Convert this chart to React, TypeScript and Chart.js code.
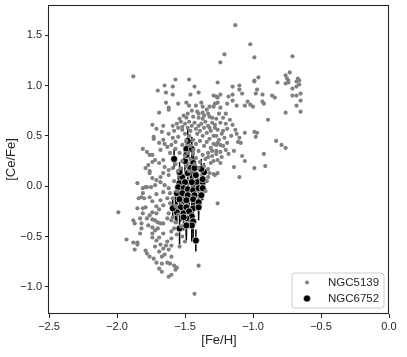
import React, { useEffect, useRef } from "react";
import { Chart, registerables } from "chart.js";

Chart.register(...registerables);

const FONT = "'Liberation Sans', Arial, Helvetica, sans-serif";
const TEXT = "#262626";

const xTicks = [-2.5, -2.0, -1.5, -1.0, -0.5, 0.0];
const yTicks = [-1.0, -0.5, 0.0, 0.5, 1.0, 1.5];
const xLimits = [-2.5, 0.0];
const yLimits = [-1.27, 1.8];

const seriesNames = ["NGC5139", "NGC6752"];

// NGC5139: [Fe/H], [Ce/Fe]
const ngc5139: [number, number][] = [
  [-1.88, 1.09], [-1.70, 0.95], [-1.65, 1.00], [-1.59, 0.99], [-1.57, 1.06], [-1.47, 1.06], [-1.43, 0.99],
  [-1.64, 0.93], [-1.59, 0.91], [-1.46, 0.91], [-1.40, 0.93], [-1.64, 0.83], [-1.62, 0.78], [-1.62, 0.76],
  [-1.55, 0.82], [-1.49, 0.83], [-1.47, 0.80], [-1.38, 0.83], [-1.37, 0.79], [-1.32, 0.79], [-1.29, 0.79],
  [-1.26, 0.83], [-1.26, 0.88], [-1.26, 1.03], [-1.69, 0.73], [-1.41, 0.74], [-1.37, 0.73], [-1.34, 0.76],
  [-1.54, 0.67], [-1.49, 0.68], [-1.47, 0.64], [-1.44, 0.69], [-1.40, 0.68], [-1.37, 0.67], [-1.32, 0.69],
  [-1.27, 0.67], [-1.74, 0.61], [-1.66, 0.60], [-1.59, 0.60], [-1.52, 0.59], [-1.73, 0.49], [-1.73, 0.47],
  [-1.67, 0.54], [-1.66, 0.46], [-1.62, 0.52], [-1.59, 0.48], [-1.55, 0.49], [-1.52, 0.56], [-1.81, 0.37],
  [-1.78, 0.34], [-1.76, 0.31], [-1.74, 0.31], [-1.68, 0.36], [-1.63, 0.39], [-1.61, 0.33], [-1.57, 0.37],
  [-1.54, 0.33], [-1.52, 0.41],
  [-1.50, 0.62], [-1.48, 0.58], [-1.46, 0.55], [-1.45, 0.60], [-1.43, 0.63], [-1.42, 0.57], [-1.41, 0.52],
  [-1.40, 0.60], [-1.39, 0.55], [-1.38, 0.62], [-1.37, 0.50], [-1.36, 0.58], [-1.35, 0.64], [-1.34, 0.53],
  [-1.33, 0.60], [-1.32, 0.47], [-1.31, 0.55], [-1.30, 0.63], [-1.29, 0.50], [-1.28, 0.58], [-1.47, 0.50],
  [-1.44, 0.46], [-1.42, 0.42], [-1.39, 0.45], [-1.36, 0.40], [-1.34, 0.44], [-1.31, 0.38], [-1.29, 0.42],
  [-1.46, 0.40], [-1.49, 0.45], [-1.50, 0.52], [-1.44, 0.36], [-1.40, 0.35], [-1.37, 0.31], [-1.33, 0.33],
  [-1.35, 0.27], [-1.30, 0.30], [-1.48, 0.33], [-1.42, 0.28], [-1.39, 0.24],
  [-1.15, 0.99], [-1.10, 1.00], [-1.10, 0.96], [-0.99, 1.04], [-0.82, 1.03], [-0.76, 1.02], [-0.74, 1.05],
  [-0.68, 1.04], [-0.68, 0.99], [-0.66, 1.01], [-0.71, 0.97], [-0.97, 0.96], [-0.98, 0.92], [-0.93, 0.91],
  [-0.86, 0.90], [-0.84, 0.88], [-0.71, 0.90], [-0.68, 0.90], [-0.65, 0.92], [-1.08, 0.92], [-1.15, 0.91],
  [-1.18, 0.89], [-1.24, 0.91], [-1.27, 0.89], [-1.29, 0.90], [-1.04, 0.84], [-1.02, 0.81], [-1.00, 0.79],
  [-0.93, 0.84], [-0.92, 0.82], [-1.06, 0.80], [-1.12, 0.80], [-1.15, 0.85], [-1.19, 0.82], [-1.24, 0.78],
  [-1.28, 0.82], [-0.68, 0.80], [-0.65, 0.74], [-0.76, 0.73], [-0.89, 0.66], [-1.24, 0.63], [-1.28, 0.61],
  [-1.32, 0.58], [-1.22, 0.55], [-1.19, 0.57], [-1.06, 0.53], [-0.99, 0.54], [-0.97, 0.53], [-0.98, 0.49],
  [-1.10, 0.48], [-1.11, 0.44], [-1.09, 0.43], [-1.19, 0.43], [-1.26, 0.43], [-1.27, 0.41], [-1.24, 0.41],
  [-0.83, 0.45], [-0.79, 0.41], [-0.76, 0.38], [-1.14, 0.35], [-1.27, 0.35], [-1.08, 0.30], [-0.92, 0.32],
  [-1.29, 0.25], [-1.26, 0.26], [-1.23, 0.29], [-1.24, 0.23], [-1.06, 0.25], [-1.14, 0.19], [-0.99, 0.18],
  [-0.91, 0.20], [-1.10, 0.09], [-1.29, 0.12], [-1.26, 0.13], [-1.33, 0.09],
  [-1.13, 1.60], [-1.02, 1.41], [-1.21, 1.31], [-1.24, 1.23], [-0.99, 1.28], [-0.71, 1.29], [-0.76, 1.10],
  [-0.73, 1.13], [-0.75, 1.07], [-0.74, 1.03], [-0.67, 1.07], [-0.66, 1.05], [-0.65, 0.85], [-0.99, 1.05],
  [-0.96, 1.08],
  [-1.32, 0.13], [-1.28, 0.11], [-1.26, -0.17], [-1.33, 0.29], [-1.31, 0.23], [-1.36, 0.20], [-1.40, 0.18],
  [-1.43, 0.22],
  [-1.99, -0.26], [-1.93, -0.53], [-1.88, -0.56], [-1.87, -0.63], [-1.85, -0.56], [-1.85, -0.58], [-1.83, -0.47],
  [-1.88, -0.34], [-1.87, -0.37], [-1.85, 0.03], [-1.82, -0.11], [-1.81, -0.07], [-1.79, -0.01], [-1.79, -0.21],
  [-1.81, -0.27], [-1.82, -0.37], [-1.78, -0.32], [-1.76, -0.29], [-1.74, -0.26], [-1.77, -0.39], [-1.74, -0.41],
  [-1.79, -0.64], [-1.78, -0.67], [-1.76, -0.70], [-1.73, -0.72], [-1.71, -0.76], [-1.67, -0.77], [-1.69, -0.82],
  [-1.67, -0.85], [-1.63, -0.76], [-1.61, -0.77], [-1.58, -0.79], [-1.56, -0.81], [-1.57, -0.83], [-1.62, -0.90],
  [-1.60, -0.88], [-1.43, -1.07], [-1.40, -0.79], [-1.64, -0.59], [-1.60, -0.59], [-1.71, -0.54], [-1.69, -0.51],
  [-1.66, -0.47], [-1.74, -0.51], [-1.74, -0.47], [-1.72, -0.44], [-1.70, -0.42], [-1.68, -0.37], [-1.70, -0.36],
  [-1.66, -0.37], [-1.72, -0.34], [-1.74, -0.33], [-1.71, -0.27], [-1.69, -0.23], [-1.71, -0.20], [-1.66, -0.19],
  [-1.68, -0.14], [-1.74, -0.15], [-1.76, -0.11], [-1.71, -0.08], [-1.66, -0.06], [-1.72, 0.01], [-1.68, 0.04],
  [-1.65, 0.01], [-1.62, -0.02], [-1.61, -0.07], [-1.63, -0.12], [-1.61, -0.17], [-1.62, -0.27], [-1.59, -0.31],
  [-1.60, -0.34], [-1.63, -0.32], [-1.57, -0.36],
  [-1.79, 0.18], [-1.77, 0.21], [-1.74, 0.24], [-1.72, 0.26], [-1.69, 0.23], [-1.66, 0.26], [-1.65, 0.19],
  [-1.66, 0.13], [-1.68, 0.09], [-1.62, 0.11], [-1.62, 0.16], [-1.59, 0.18], [-1.76, 0.15], [-1.74, 0.08],
  [-1.71, 0.06], [-1.76, 0.13], [-1.81, -0.02], [-1.78, -0.01], [-1.75, -0.01], [-1.84, -0.12], [-1.80, -0.12],
  [-1.81, -0.22], [-1.85, -0.22], [-1.82, -0.42], [-1.83, -0.32],
  [-1.57, 0.22], [-1.55, 0.15], [-1.58, 0.05], [-1.56, -0.05], [-1.59, -0.12], [-1.57, -0.20], [-1.55, -0.28],
  [-1.58, -0.42], [-1.56, -0.48], [-1.60, -0.52], [-1.53, -0.40], [-1.52, -0.50], [-1.54, -0.60], [-1.50, -0.55],
  [-1.60, -0.45], [-1.63, -0.55], [-1.62, -0.63], [-1.65, -0.68], [-1.60, -0.70], [-1.66, -0.62], [-1.68, -0.58],
  [-1.69, -0.65], [-1.72, -0.60], [-1.67, -0.70],
  [-1.34, 0.05], [-1.35, -0.05], [-1.33, 0.17],
  [-1.52, 0.25], [-1.49, 0.20], [-1.46, 0.27], [-1.44, 0.32], [-1.50, 0.30], [-1.53, 0.18], [-1.47, 0.15],
  [-1.71, 0.57], [-1.69, 0.43], [-1.65, 0.42], [-1.60, 0.41], [-1.57, 0.44], [-1.58, 0.55], [-1.55, 0.58],
  [-1.56, 0.62], [-1.53, 0.64], [-1.51, 0.70], [-1.48, 0.72], [-1.45, 0.75], [-1.42, 0.80], [-1.40, 0.72],
  [-1.36, 0.70], [-1.33, 0.72], [-1.30, 0.68], [-1.25, 0.72], [-1.22, 0.68], [-1.20, 0.72], [-1.20, 0.62],
  [-1.17, 0.66], [-1.15, 0.61], [-1.13, 0.56], [-1.16, 0.50], [-1.12, 0.52], [-1.21, 0.48], [-1.23, 0.52],
  [-1.26, 0.56], [-1.27, 0.50], [-1.25, 0.46], [-1.22, 0.40], [-1.20, 0.36], [-1.18, 0.32], [-1.27, 0.32],
  [-1.30, 0.35], [-1.24, 0.34],
];

// NGC6752: [Fe/H], [Ce/Fe]
const ngc6752: [number, number][] = [
  [-1.48, 0.45], [-1.47, 0.38], [-1.49, 0.37], [-1.45, 0.37], [-1.58, 0.27], [-1.50, 0.25], [-1.44, 0.23],
  [-1.49, 0.31], [-1.36, 0.14], [-1.52, 0.09], [-1.48, 0.13], [-1.42, 0.11], [-1.41, 0.04], [-1.54, 0.03],
  [-1.50, 0.04], [-1.45, 0.04], [-1.37, 0.04], [-1.55, -0.01], [-1.51, -0.02], [-1.48, -0.03], [-1.44, -0.04],
  [-1.40, -0.02], [-1.37, -0.02], [-1.56, -0.07], [-1.52, -0.07], [-1.48, -0.09], [-1.43, -0.09], [-1.38, -0.09],
  [-1.54, -0.13], [-1.49, -0.14], [-1.44, -0.13], [-1.40, -0.16], [-1.57, -0.22], [-1.53, -0.21], [-1.49, -0.21],
  [-1.44, -0.22], [-1.40, -0.21], [-1.56, -0.26], [-1.51, -0.27], [-1.47, -0.25], [-1.45, -0.30], [-1.49, -0.32],
  [-1.44, -0.35], [-1.54, -0.42], [-1.45, -0.39], [-1.42, -0.54], [-1.54, 0.14], [-1.46, 0.18], [-1.43, 0.18],
  [-1.38, 0.17], [-1.37, 0.07], [-1.51, -0.31], [-1.49, -0.39], [-1.59, -0.22],
];

// NGC6752 [Ce/Fe] errors
const ngc6752Err: number[] = [
  0.12, 0.10, 0.10, 0.12, 0.10, 0.11, 0.12,
  0.10, 0.09, 0.10, 0.11, 0.10, 0.10, 0.12,
  0.11, 0.12, 0.10, 0.12, 0.10, 0.11, 0.13,
  0.10, 0.12, 0.11, 0.10, 0.12, 0.13, 0.10,
  0.12, 0.11, 0.14, 0.12, 0.12, 0.14, 0.12,
  0.15, 0.13, 0.11, 0.15, 0.14, 0.16, 0.17,
  0.18, 0.16, 0.16, 0.11, 0.10, 0.11, 0.10,
  0.10, 0.11, 0.13, 0.15, 0.10,
];

const fmt = (v: number) => {
  const s = Math.abs(v) < 1e-9 ? "0.0" : v.toFixed(1);
  return s.replace("-", "\u2212");
};

const errorBarPlugin = {
  id: "errorBars",
  beforeDatasetDraw(chart: any, args: any) {
    if (args.index !== 1) return;
    const { ctx, scales } = chart;
    const xs = scales.x;
    const ys = scales.y;
    ctx.save();
    ctx.strokeStyle = "#000000";
    ctx.lineWidth = 1.5;
    ngc6752.forEach((p, i) => {
      const e = ngc6752Err[i];
      const px = xs.getPixelForValue(p[0]);
      const y1 = ys.getPixelForValue(p[1] - e);
      const y2 = ys.getPixelForValue(p[1] + e);
      ctx.beginPath();
      ctx.moveTo(px, y1);
      ctx.lineTo(px, y2);
      ctx.stroke();
    });
    ctx.restore();
  },
};

const framePlugin = {
  id: "frameLegend",
  afterDraw(chart: any) {
    const { ctx, chartArea: ca } = chart;
    ctx.save();
    // spines
    ctx.strokeStyle = TEXT;
    ctx.lineWidth = 1.1;
    const l = Math.round(ca.left) - 0.5;
    const t = Math.round(ca.top) + 0.5;
    const r0 = Math.round(ca.right) - 0.5;
    const b = Math.round(ca.bottom) - 0.5;
    ctx.strokeRect(l, t, r0 - l, b - t);
    // legend box
    const w = 92, h = 35;
    const left = ca.right - 5 - w;
    const top = ca.bottom - 6 - h;
    const r = 3;
    ctx.beginPath();
    ctx.moveTo(left + r, top);
    ctx.lineTo(left + w - r, top);
    ctx.quadraticCurveTo(left + w, top, left + w, top + r);
    ctx.lineTo(left + w, top + h - r);
    ctx.quadraticCurveTo(left + w, top + h, left + w - r, top + h);
    ctx.lineTo(left + r, top + h);
    ctx.quadraticCurveTo(left, top + h, left, top + h - r);
    ctx.lineTo(left, top + r);
    ctx.quadraticCurveTo(left, top, left + r, top);
    ctx.closePath();
    ctx.fillStyle = "rgba(255,255,255,0.8)";
    ctx.fill();
    ctx.strokeStyle = "#cccccc";
    ctx.lineWidth = 1;
    ctx.stroke();
    // markers
    const mx = left + 15;
    const y1 = top + 9.5;
    const y2 = top + 25.5;
    ctx.beginPath();
    ctx.arc(mx, y1, 2.0, 0, Math.PI * 2);
    ctx.fillStyle = "#808080";
    ctx.fill();
    ctx.beginPath();
    ctx.arc(mx, y2, 3.6, 0, Math.PI * 2);
    ctx.fillStyle = "#000000";
    ctx.fill();
    ctx.strokeStyle = "rgba(255,255,255,0.85)";
    ctx.lineWidth = 0.8;
    ctx.stroke();
    // text
    ctx.fillStyle = TEXT;
    ctx.font = `11.5px ${FONT}`;
    ctx.textBaseline = "middle";
    ctx.textAlign = "left";
    ctx.fillText(seriesNames[0], left + 36, y1);
    ctx.fillText(seriesNames[1], left + 36, y2);
    ctx.restore();
  },
};

export default function App() {
  const ref = useRef<HTMLCanvasElement | null>(null);

  useEffect(() => {
    if (!ref.current) return;
    const tickFont = { family: FONT, size: 11 };
    const titleFont = { family: FONT, size: 13 };
    const chart = new Chart(ref.current, {
      type: "scatter",
      data: {
        datasets: [
          {
            label: seriesNames[0],
            data: ngc5139.map(([x, y]) => ({ x, y })),
            backgroundColor: "#808080",
            borderWidth: 0,
            pointRadius: 2.1,
          },
          {
            label: seriesNames[1],
            data: ngc6752.map(([x, y]) => ({ x, y })),
            backgroundColor: "#000000",
            borderColor: "rgba(255,255,255,0.85)",
            borderWidth: 0.8,
            pointRadius: 3.5,
          },
        ],
      },
      options: {
        animation: false,
        responsive: true,
        maintainAspectRatio: false,
        events: [],
        layout: { padding: { top: 5, right: 18, bottom: 0, left: 0 } },
        plugins: {
          legend: { display: false },
          tooltip: { enabled: false },
        },
        scales: {
          x: {
            type: "linear",
            min: xLimits[0],
            max: xLimits[1],
            afterBuildTicks: (s: any) => {
              s.ticks = xTicks.map((v) => ({ value: v }));
            },
            afterFit: (s: any) => {
              s.height = 43;
              s.paddingLeft = 0;
              s.paddingRight = 0;
            },
            ticks: {
              callback: (v: any) => fmt(Number(v)),
              font: tickFont,
              color: TEXT,
              padding: 2,
              maxRotation: 0,
              autoSkip: false,
            },
            grid: {
              drawOnChartArea: false,
              drawTicks: true,
              tickLength: 4,
              tickColor: TEXT,
              tickWidth: 1,
            },
            border: { display: false },
            title: {
              display: true,
              text: "[Fe/H]",
              font: titleFont,
              color: TEXT,
              padding: { top: 0, bottom: 9 },
            },
          },
          y: {
            type: "linear",
            min: yLimits[0],
            max: yLimits[1],
            afterBuildTicks: (s: any) => {
              s.ticks = yTicks.map((v) => ({ value: v }));
            },
            afterFit: (s: any) => {
              s.width = 49;
              s.paddingTop = 0;
              s.paddingBottom = 0;
            },
            ticks: {
              callback: (v: any) => fmt(Number(v)),
              font: tickFont,
              color: TEXT,
              padding: 3,
              autoSkip: false,
            },
            grid: {
              drawOnChartArea: false,
              drawTicks: true,
              tickLength: 4,
              tickColor: TEXT,
              tickWidth: 1,
            },
            border: { display: false },
            title: {
              display: true,
              text: "[Ce/Fe]",
              font: titleFont,
              color: TEXT,
              padding: { top: 4, bottom: 4 },
            },
          },
        },
      },
      plugins: [errorBarPlugin, framePlugin],
    });
    return () => chart.destroy();
  }, []);

  return (
    <div style={{ position: "absolute", left: 0, top: 0, width: 407, height: 357, background: "#ffffff" }}>
      <canvas ref={ref} />
    </div>
  );
}
